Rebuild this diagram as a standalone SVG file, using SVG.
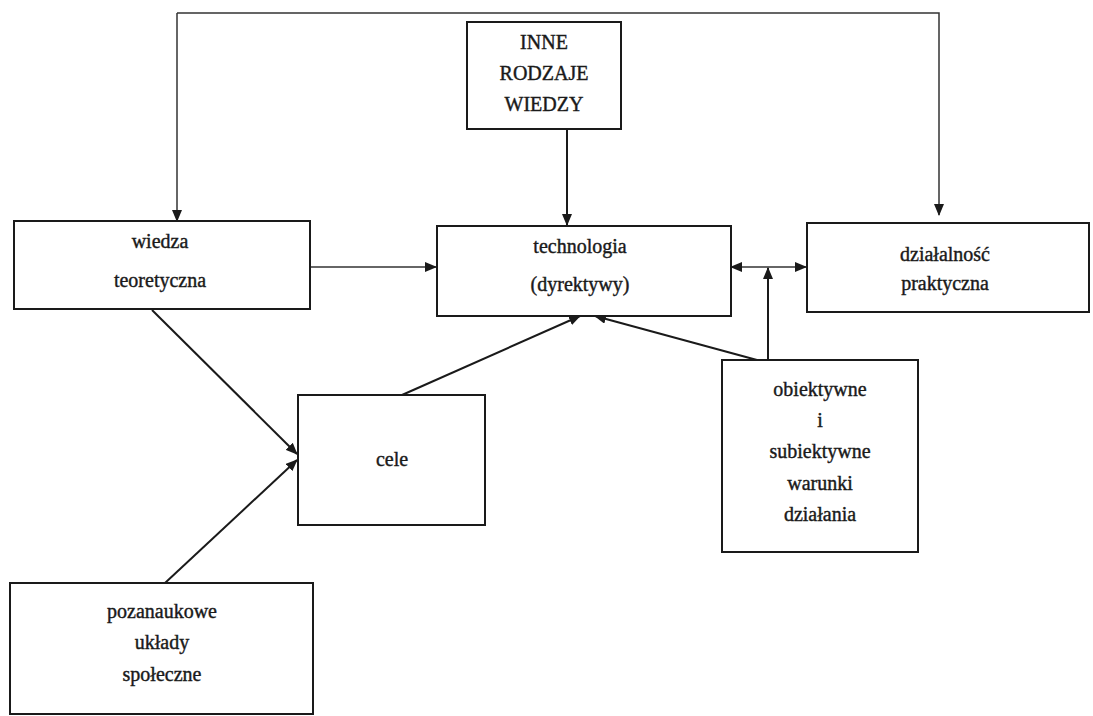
<svg xmlns="http://www.w3.org/2000/svg" width="1093" height="716" viewBox="0 0 1093 716">
<defs>
<style>
.box{fill:#fff;stroke:#1a1a1a;stroke-width:2}
.t{font-family:"Liberation Serif","DejaVu Serif",serif;font-size:20px;fill:#1a1a1a;stroke:#1a1a1a;stroke-width:0.4;text-anchor:middle}
.c{stroke:#1a1a1a;stroke-width:2;fill:none}
.thin{stroke:#333;stroke-width:1.5;fill:none}
</style>
<marker id="ah" viewBox="0 0 12 10" refX="11" refY="5" markerWidth="12" markerHeight="10" markerUnits="userSpaceOnUse" orient="auto">
<path d="M0,0 L12,5 L0,10 Z" fill="#1a1a1a"/>
</marker>
</defs>
<rect width="1093" height="716" fill="#fff"/>
<g id="connectors">
<polyline class="thin" points="177,13 939,13 939,215" marker-end="url(#ah)"/>
<line class="thin" x1="177" y1="13" x2="177" y2="221" marker-end="url(#ah)"/>
<line class="c" x1="567" y1="129" x2="567" y2="225" marker-end="url(#ah)"/>
<line class="thin" x1="310" y1="267" x2="436" y2="267" marker-end="url(#ah)"/>
<line class="thin" x1="768" y1="267" x2="731" y2="267" marker-end="url(#ah)"/>
<line class="thin" x1="768" y1="267" x2="806" y2="267" marker-end="url(#ah)"/>
<line class="c" x1="768" y1="360" x2="768" y2="268" marker-end="url(#ah)"/>
<line class="c" x1="152" y1="310" x2="297" y2="454" marker-end="url(#ah)"/>
<line class="c" x1="165" y1="583" x2="297" y2="460" marker-end="url(#ah)"/>
<line class="c" x1="402" y1="395" x2="580" y2="316" marker-end="url(#ah)"/>
<line class="c" x1="757" y1="360" x2="595" y2="316" marker-end="url(#ah)"/>
</g>
<g id="inne">
<rect class="box" x="467" y="22" width="154" height="107"/>
<text class="t" x="544" y="49">INNE</text>
<text class="t" x="544" y="80">RODZAJE</text>
<text class="t" x="544" y="111">WIEDZY</text>
</g>
<g id="wiedza">
<rect class="box" x="14" y="221" width="296" height="88"/>
<text class="t" x="160" y="248">wiedza</text>
<text class="t" x="160" y="287">teoretyczna</text>
</g>
<g id="technologia">
<rect class="box" x="437" y="226" width="294" height="90"/>
<text class="t" x="580" y="253">technologia</text>
<text class="t" x="580" y="291">(dyrektywy)</text>
</g>
<g id="dzialalnosc">
<rect class="box" x="807" y="223" width="282" height="89"/>
<text class="t" x="945" y="261">działalność</text>
<text class="t" x="945" y="290">praktyczna</text>
</g>
<g id="cele">
<rect class="box" x="298" y="395" width="187" height="130"/>
<text class="t" x="392" y="466">cele</text>
</g>
<g id="warunki">
<rect class="box" x="722" y="360" width="196" height="192"/>
<text class="t" x="820" y="396">obiektywne</text>
<text class="t" x="820" y="427">i</text>
<text class="t" x="820" y="458">subiektywne</text>
<text class="t" x="820" y="490">warunki</text>
<text class="t" x="820" y="521">działania</text>
</g>
<g id="pozanaukowe">
<rect class="box" x="10" y="583" width="303" height="131"/>
<text class="t" x="162" y="618">pozanaukowe</text>
<text class="t" x="162" y="649">układy</text>
<text class="t" x="162" y="681">społeczne</text>
</g>
</svg>
